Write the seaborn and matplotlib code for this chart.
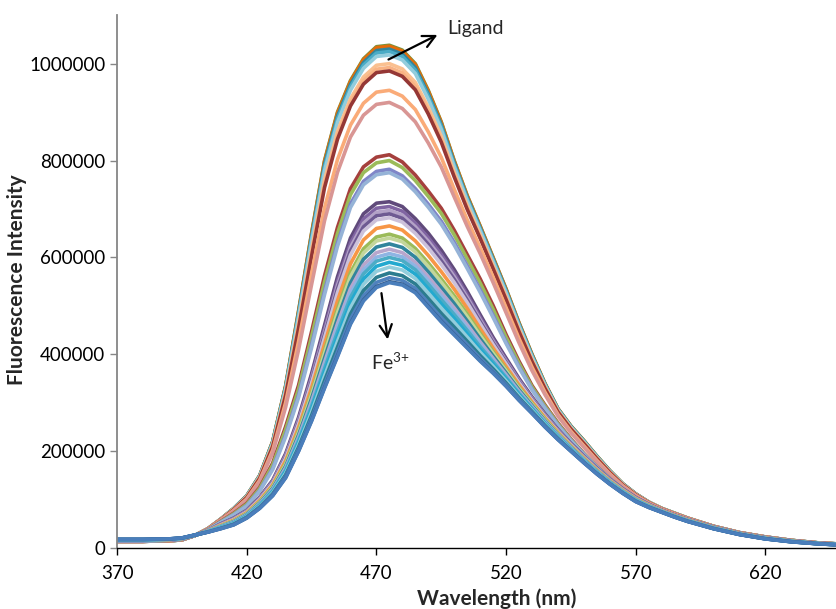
import numpy as np
import pandas as pd
import matplotlib
matplotlib.use("Agg")
import matplotlib.pyplot as plt
import seaborn as sns

# wavelength grid (nm)
wavelength = [370, 380, 390, 395, 400, 405, 410, 415, 420, 425, 430, 435, 440, 445,
              450, 455, 460, 465, 470, 475, 480, 485, 490, 495, 500, 505, 510, 515,
              520, 525, 530, 535, 540, 545, 550, 555, 560, 565, 570, 575, 580, 585,
              590, 600, 610, 620, 630, 640, 650]

# four spectra: ligand (top), middle band, upper purple band, Fe3+ end
spec_ligand = [14000, 14000, 15000, 17000, 26000, 40000, 60000, 82000, 108000, 150000,
               220000, 335000, 490000, 650000, 800000, 900000, 965000, 1010000, 1035000,
               1038000, 1028000, 1000000, 945000, 880000, 800000, 728000, 665000, 600000,
               535000, 465000, 400000, 340000, 288000, 252000, 222000, 190000, 160000,
               133000, 112000, 95000, 82000, 72000, 62000, 45000, 32000, 23000, 16000,
               11000, 8000]
spec_mid = [14000, 14000, 16000, 18000, 26000, 38000, 55000, 72000, 92000, 125000,
            175000, 250000, 335000, 445000, 560000, 660000, 740000, 785000, 805000,
            810000, 795000, 768000, 735000, 700000, 655000, 605000, 555000, 500000,
            440000, 385000, 335000, 295000, 258000, 225000, 195000, 168000, 143000,
            122000, 104000, 90000, 78000, 68000, 59000, 44000, 31000, 22000, 15000,
            10000, 7000]
spec_purple = [16000, 16000, 17000, 19000, 26000, 36000, 50000, 62000, 78000, 105000,
               140000, 195000, 270000, 360000, 460000, 560000, 640000, 690000, 712000,
               715000, 705000, 680000, 650000, 615000, 575000, 530000, 482000, 435000,
               392000, 350000, 312000, 277000, 245000, 216000, 190000, 165000, 142000,
               122000, 104000, 90000, 78000, 68000, 59000, 43000, 30000, 21000, 15000,
               10000, 7000]
spec_fe = [18000, 18000, 19000, 21000, 27000, 33000, 40000, 48000, 62000, 82000,
           108000, 145000, 200000, 262000, 330000, 395000, 462000, 510000, 538000,
           548000, 543000, 527000, 497000, 467000, 440000, 413000, 386000, 361000,
           334000, 305000, 278000, 250000, 224000, 200000, 176000, 153000, 132000,
           113000, 96000, 84000, 74000, 64000, 55000, 40000, 28000, 19000, 13000,
           9000, 6000]

# peak intensity of every spectrum in the titration and its colour
peaks = [1040000, 1036000, 1030000, 1025000, 1018000, 1000000, 992000, 985000, 945000,
         920000, 812000, 800000, 782000, 775000, 715000, 705000, 697000, 690000, 682000,
         665000, 648000, 640000, 628000, 617000, 608000, 600000, 590000, 580000, 568000,
         558000, 550000, 545000]
colors = ["#77933C", "#E46C0A", "#31859C", "#4BACC6", "#93CDDD", "#FAC090", "#F9B384",
          "#953735", "#FAAB78", "#D99694", "#A5403D", "#9BBB59", "#7F86C8", "#95B3D7",
          "#604A7B", "#8064A2", "#B3A2C7", "#6E5A92", "#CCC1DA", "#F79646", "#9BBB59",
          "#C3D69B", "#31859C", "#B7A6CC", "#8EB4E3", "#4BACC6", "#23A9CF", "#92CDDC",
          "#2C7C8F", "#4F81BD", "#376092", "#4A7EBB"]

# each spectrum sits between the two read spectra whose peaks bracket its own
ref = np.array([spec_fe, spec_purple, spec_mid, spec_ligand], dtype=float)
ref_peaks = ref.max(axis=1)
frames = []
for i, pk in enumerate(peaks):
    vals = [np.interp(pk, ref_peaks, ref[:, j]) for j in range(len(wavelength))]
    frames.append(pd.DataFrame({"wavelength": wavelength, "intensity": vals,
                                "curve": f"c{i}"}))
df = pd.concat(frames, ignore_index=True)

sns.set_style("white")
plt.rcParams["font.family"] = ["Lato", "DejaVu Sans"]
plt.rcParams["mathtext.fontset"] = "custom"
plt.rcParams["mathtext.rm"] = "Lato"

fig = plt.figure(figsize=(8.36, 6.09), dpi=100)
ax = fig.add_axes([0.14, 0.10, 0.86, 0.875])

names = [f"c{i}" for i in range(len(peaks))]
sns.lineplot(data=df, x="wavelength", y="intensity", hue="curve",
             palette=dict(zip(names, colors)), hue_order=names,
             linewidth=2.6, legend=False, ax=ax)

ax.set_xlim(370, 647.2)
ax.set_ylim(0, 1100000)
ax.set_xticks([370, 420, 470, 520, 570, 620])
ax.set_yticks([0, 200000, 400000, 600000, 800000, 1000000])
ax.set_yticklabels(["0", "200000", "400000", "600000", "800000", "1000000"])
ax.tick_params(axis="both", labelsize=13.5, direction="out", length=5, width=1,
               left=True, bottom=True, colors="black")
ax.tick_params(axis="x", pad=7)
ax.tick_params(axis="y", color="#868686")

for s in ["top", "right"]:
    ax.spines[s].set_visible(False)
ax.spines["left"].set_color("#868686")
ax.spines["left"].set_linewidth(1.3)
ax.spines["bottom"].set_color("black")
ax.spines["bottom"].set_linewidth(1.0)

ax.set_xlabel("Wavelength (nm)", fontsize=15, fontweight="bold")
ax.set_ylabel("Fluorescence Intensity", fontsize=15, fontweight="bold")
ax.xaxis.set_label_coords(0.528, -0.075)
ax.yaxis.set_label_coords(-0.125, 0.503)

ax.annotate("", xy=(494.5, 1062000), xytext=(473.7, 1006000),
            arrowprops=dict(arrowstyle="->", color="black", lw=1.6, mutation_scale=22))
ax.text(497.2, 1072000, "Ligand", fontsize=14, ha="left", va="center")
ax.annotate("", xy=(474.5, 425000), xytext=(471.8, 532000),
            arrowprops=dict(arrowstyle="->", color="black", lw=1.6, mutation_scale=22))
ax.text(475.2, 384000, r"Fe$^{\mathregular{3{+}}}$", fontsize=14, ha="center", va="center")

fig.savefig("out.png", dpi=100)
